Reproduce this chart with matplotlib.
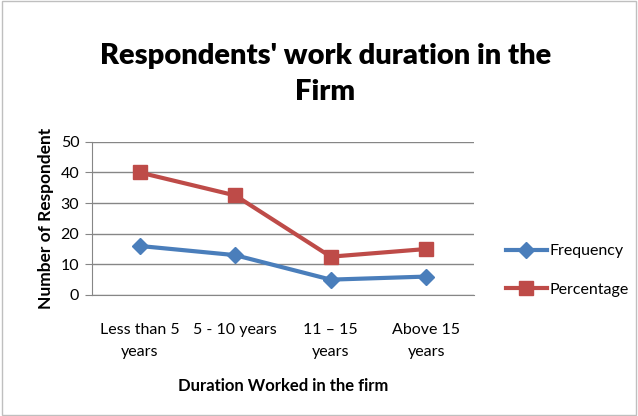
import matplotlib
matplotlib.use("Agg")
import matplotlib.pyplot as plt
from matplotlib.patches import Rectangle

categories = ["Less than 5\nyears", "5 - 10 years", "11 \u2013 15\nyears", "Above 15\nyears"]
frequency = [16, 13, 5, 6]
percentage = [40, 32.5, 12.5, 15]
y_ticks = [0, 10, 20, 30, 40, 50]

plt.rcParams["font.family"] = ["Lato", "DejaVu Sans"]

fig = plt.figure(figsize=(6.38, 4.16), dpi=100)
ax = fig.add_axes([0.144, 0.291, 0.599, 0.368])

x = range(len(categories))
ax.plot(x, frequency, color="#4A7EBB", lw=3, marker="D", ms=8, label="Frequency")
ax.plot(x, percentage, color="#BE4B48", lw=3, marker="s", ms=10, label="Percentage")

ax.set_xlim(-0.5, 3.5)
ax.set_ylim(0, 50)
ax.set_yticks(y_ticks)
ax.set_xticks(list(x))
ax.set_xticklabels(categories, fontsize=11.5, linespacing=1.75)
ax.tick_params(axis="y", labelsize=11.5, length=5, color="#868686", pad=4)
ax.tick_params(axis="x", length=0, pad=20)
ax.grid(axis="y", color="#868686", lw=1)
ax.set_axisbelow(True)
for side in ["top", "right"]:
    ax.spines[side].set_visible(False)
for side in ["left", "bottom"]:
    ax.spines[side].set_color("#868686")

ax.set_ylabel("Number of Respondent", fontsize=12.5, fontweight="bold", labelpad=5)
ax.set_xlabel("Duration Worked in the firm", fontsize=12, fontweight="bold", labelpad=14)

fig.text(0.51, 0.822, "Respondents' work duration in the\nFirm", ha="center", va="center",
         fontsize=21, fontweight="heavy", linespacing=1.5)

fig.legend(loc="center left", bbox_to_anchor=(0.77, 0.35), frameon=False, fontsize=11.5,
           handlelength=2.6, labelspacing=1.5, handletextpad=0.15)

fig.patches.append(Rectangle((0.003, 0.003), 0.994, 0.994, transform=fig.transFigure,
                             fill=False, edgecolor="#BFBFBF", lw=1))

fig.savefig("out.png", dpi=100)
